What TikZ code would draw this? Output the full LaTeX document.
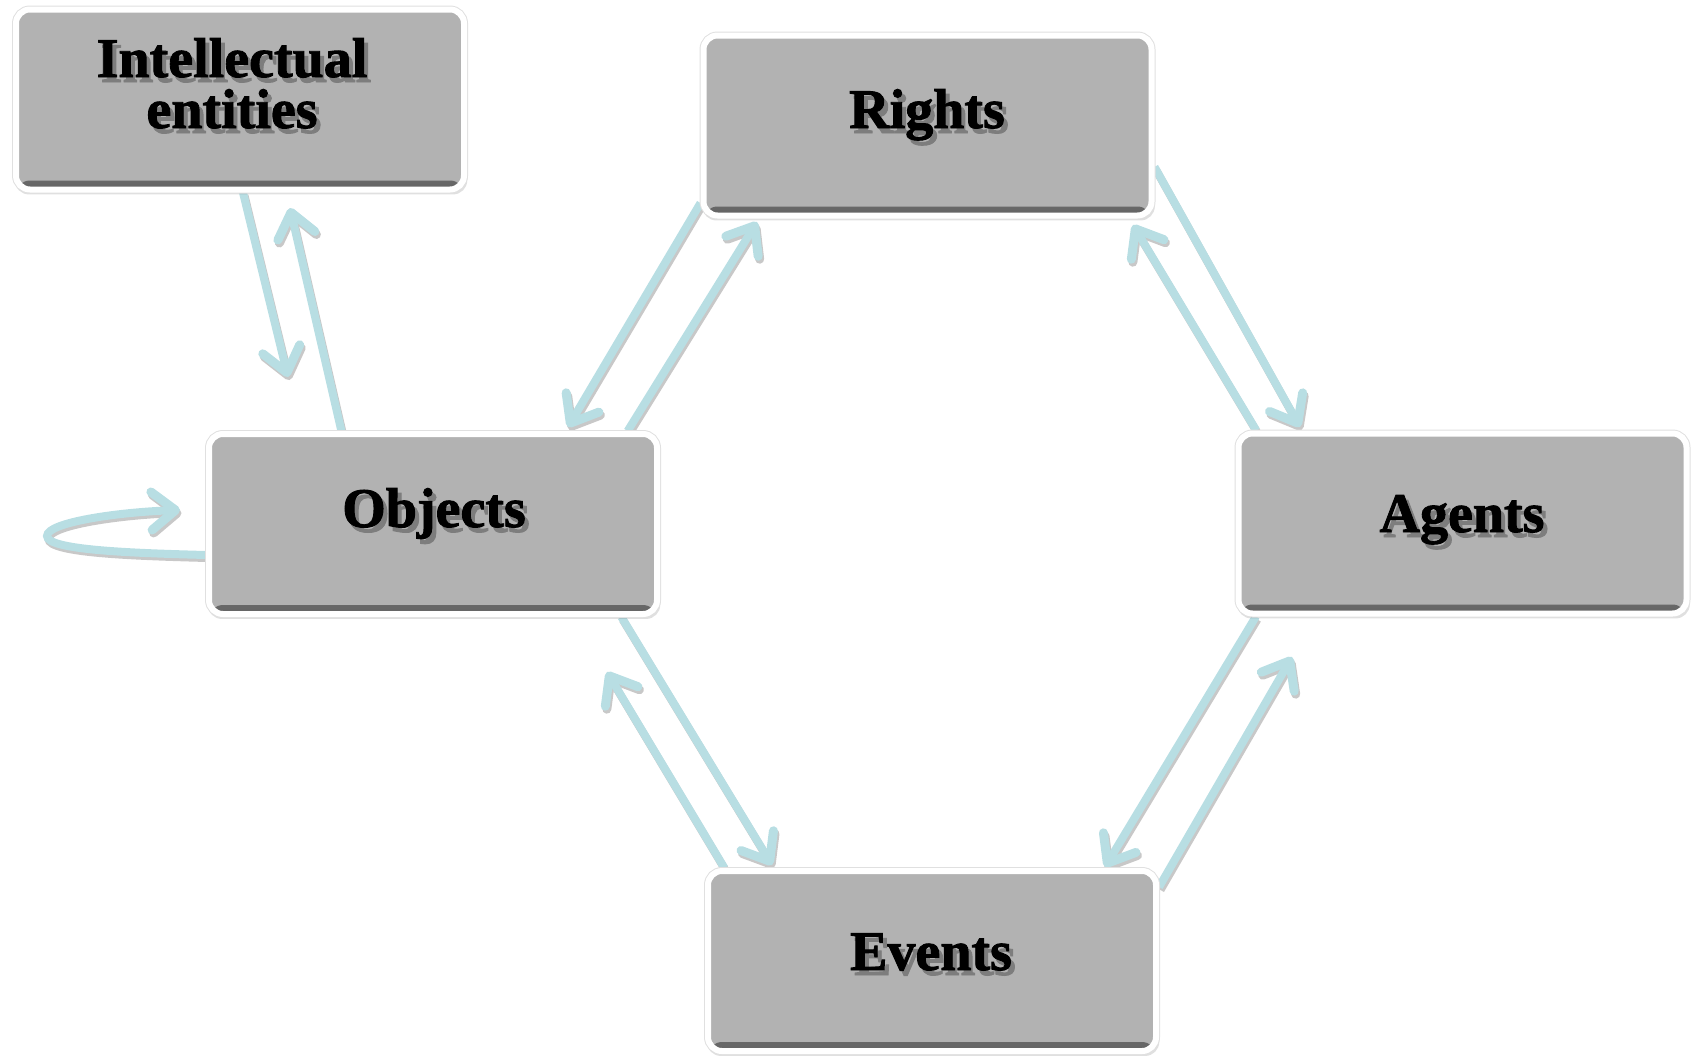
\documentclass[tikz,border=0pt]{standalone}
\usepackage{fontspec}
\setmainfont[BoldFeatures={FakeBold=1.6}]{Liberation Serif}
\usetikzlibrary{arrows.meta,shadows,calc}
\definecolor{boxgray}{RGB}{178,178,178}
\definecolor{bevel}{RGB}{100,100,100}
\definecolor{conncol}{RGB}{184,222,227}
\definecolor{connshadow}{RGB}{200,200,200}
\definecolor{txtshadow}{RGB}{125,125,125}
\pgfdeclarelayer{bg}
\pgfdeclarelayer{bgshadow}
\pgfsetlayers{bgshadow,bg,main}
\begin{document}
\begin{tikzpicture}[x=1pt,y=-1pt,
  box/.style={rounded corners=14pt, fill=boxgray, draw=white, line width=6pt,
    minimum width=448pt, minimum height=180pt, inner sep=0pt,
    drop shadow={shadow xshift=1pt, shadow yshift=-4pt, opacity=0.12, fill=black, shadow scale=1.01},
    preaction={draw=black!12, line width=8pt},
    path picture={\shade[top color=boxgray, bottom color=bevel]
      (path picture bounding box.south west) rectangle ([yshift=9pt]path picture bounding box.south east);}},
  lbl/.style={font=\bfseries\fontsize{56}{51}\selectfont, anchor=base, align=center, inner sep=0pt, text=black},
  lblshadow/.style={lbl, text=txtshadow},
  connbase/.style={line width=8pt,
    -{Straight Barb[length=24pt,width=38pt,line width=9pt,round]}},
  conn/.style={connbase, draw=conncol},
  connsh/.style={connbase, draw=connshadow}]
\useasboundingbox (0,0) rectangle (1693,1055);

% boxes
\node[box] (intel) at (240,99.5) {};
\node[box] (rights) at (927.5,125.5) {};
\node[box] (objects) at (433,524) {};
\node[box] (agents) at (1462.5,523.5) {};
\node[box] (events) at (932,961) {};

% labels
\node[lblshadow] (intelS) at (236,133) {Intellectual\\entities};
\node[lbl] (intelT) at (232,128) {Intellectual\\entities};
\node[lblshadow] (rightsS) at (931,133) {Rights};
\node[lbl] (rightsT) at (927,128) {Rights};
\node[lblshadow] (objectsS) at (438,532) {Objects};
\node[lbl] (objectsT) at (434,527) {Objects};
\node[lblshadow] (agentsS) at (1466,537) {Agents};
\node[lbl] (agentsT) at (1462,532) {Agents};
\node[lblshadow] (eventsS) at (935,975) {Events};
\node[lbl] (eventsT) at (931,970) {Events};

% arrow tips
\coordinate (t1) at (288,377);
\coordinate (t2) at (290,208);
\coordinate (t3) at (568,427);
\coordinate (t4) at (757,222);
\coordinate (t5) at (1300,427);
\coordinate (t6) at (1133,225);
\coordinate (t7) at (772,865);
\coordinate (t8) at (607,672);
\coordinate (t9) at (1105,867);
\coordinate (t10) at (1292,657);
\coordinate (t11) at (180,510);

\def\allconns#1{%
\draw[#1] ([xshift=3pt]intel.south) -- (t1);
\draw[#1] ([xshift=-91.6pt]objects.north) -- (t2);
\draw[#1] ([yshift=15.5pt]rights.south west) -- (t3);
\draw[#1] ([xshift=194.6pt]objects.north) -- (t4);
\draw[#1] ([yshift=-41.4pt]rights.east) -- (t5);
\draw[#1] ([xshift=-206.2pt]agents.north) -- (t6);
\draw[#1] ([xshift=188.4pt]objects.south) -- (t7);
\draw[#1] ([xshift=-207.6pt]events.north) -- (t8);
\draw[#1] ([xshift=-206.6pt]agents.south) -- (t9);
\draw[#1] ([yshift=74pt]events.east) -- (t10);
\draw[#1] ([yshift=-31pt]objects.west) .. controls (130,553) and (47,550) .. (47,536)
  .. controls (47,522) and (120,512) .. (t11);}

\begin{pgfonlayer}{bgshadow}
\begin{scope}[transform canvas={xshift=1.5pt,yshift=-3pt}]
\allconns{connsh}
\end{scope}
\end{pgfonlayer}
\begin{pgfonlayer}{bg}
\allconns{conn}
\end{pgfonlayer}
\end{tikzpicture}
\end{document}
